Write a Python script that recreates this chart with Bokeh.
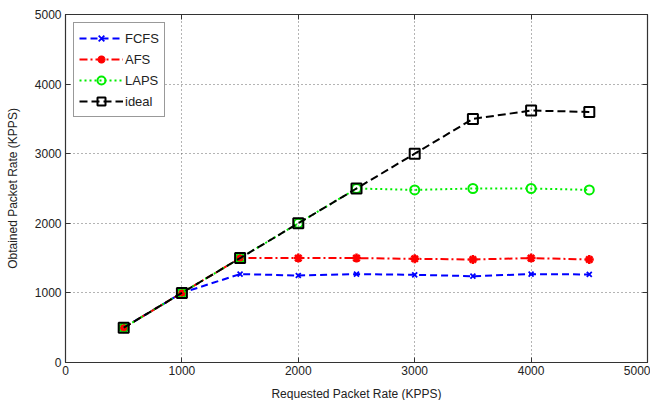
from bokeh.plotting import figure
from bokeh.models import LinearAxis, Legend, LegendItem, FixedTicker, Range1d
from bokeh.embed import file_html
from bokeh.resources import INLINE

x = [500, 1000, 1500, 2000, 2500, 3000, 3500, 4000, 4500]
fcfs = [500, 1000, 1270, 1250, 1270, 1260, 1240, 1270, 1265]
afs = [500, 1000, 1500, 1500, 1500, 1490, 1480, 1500, 1480]
laps = [500, 1000, 1500, 2000, 2500, 2480, 2500, 2500, 2480]
ideal = [500, 1000, 1500, 2000, 2500, 3000, 3500, 3620, 3600]
xticks = [0, 1000, 2000, 3000, 4000, 5000]
yticks = [0, 1000, 2000, 3000, 4000, 5000]

FONT = "Liberation Sans"

p = figure(frame_width=582, frame_height=348, output_backend="svg", toolbar_location=None,
           x_range=Range1d(0, 5000), y_range=Range1d(0, 5000),
           min_border_left=65, min_border_top=14, min_border_right=3, min_border_bottom=28)
p.outline_line_color = "#333333"
p.outline_line_width = 1.2

for ax in (p.xaxis[0], p.yaxis[0]):
    ax.ticker = FixedTicker(ticks=xticks)
    ax.major_tick_in = 5
    ax.major_tick_out = 0
    ax.minor_tick_line_color = None
    ax.axis_line_color = "#333333"
    ax.major_tick_line_color = "#333333"
    ax.major_label_text_font = FONT
    ax.major_label_text_font_size = "12px"
    ax.major_label_text_color = "#222222"
    ax.axis_label_text_font = FONT
    ax.axis_label_text_font_size = "12px"
    ax.axis_label_text_font_style = "normal"
    ax.axis_label_text_color = "#222222"
p.yaxis[0].ticker = FixedTicker(ticks=yticks)
p.xaxis[0].axis_label = "Requested Packet Rate (KPPS)"
p.yaxis[0].axis_label = "Obtained Packet Rate (KPPS)"
p.xaxis[0].axis_label_standoff = 9
p.yaxis[0].axis_label_standoff = 12
p.xaxis[0].major_label_standoff = 3
p.yaxis[0].major_label_standoff = 4

for loc in ("above", "right"):
    a = LinearAxis(ticker=FixedTicker(ticks=xticks),
                   major_label_overrides={t: "" for t in xticks},
                   major_tick_in=5, major_tick_out=0, minor_tick_line_color=None,
                   axis_line_color="#333333", major_tick_line_color="#333333",
                   major_label_standoff=0)
    p.add_layout(a, loc)

p.xgrid.ticker = FixedTicker(ticks=xticks)
p.ygrid.ticker = FixedTicker(ticks=yticks)
p.grid.grid_line_color = "#444444"
p.grid.grid_line_dash = "1 3"
p.grid.grid_line_width = 1
p.grid.grid_line_alpha = 0.8

l1 = p.line(x, fcfs, line_color="blue", line_width=2, line_dash="7 4")
m1 = p.scatter(x, fcfs, marker="x", size=7, line_color="blue", line_width=1.8)
l2 = p.line(x, afs, line_color="red", line_width=2, line_dash="8 3 2 3")
m2 = p.scatter(x, afs, marker="asterisk", size=9, line_color="red", line_width=2.5)
l3 = p.line(x, laps, line_color="#00ee00", line_width=2, line_dash="2 3")
m3 = p.scatter(x, laps, marker="circle", size=9, line_color="#00ee00", fill_color=None, line_width=2)
l4 = p.line(x, ideal, line_color="black", line_width=2, line_dash="8 4")
m4 = p.scatter(x, ideal, marker="square", size=10, line_color="black", fill_color=None, line_width=2)

legend = Legend(items=[
    LegendItem(label="FCFS", renderers=[l1, m1]),
    LegendItem(label="AFS", renderers=[l2, m2]),
    LegendItem(label="LAPS", renderers=[l3, m3]),
    LegendItem(label="ideal", renderers=[l4, m4]),
], location="top_left")
legend.margin = 8
legend.padding = 5
legend.spacing = 1
legend.glyph_width = 44
legend.glyph_height = 20
legend.label_height = 20
legend.label_standoff = 2
legend.label_text_font = FONT
legend.label_text_font_size = "13px"
legend.label_text_color = "#222222"
legend.border_line_color = "#333333"
legend.border_line_width = 1.5
legend.background_fill_color = "white"
legend.background_fill_alpha = 1
p.add_layout(legend, "center")

open("out.html", "w").write(file_html(p, INLINE))
